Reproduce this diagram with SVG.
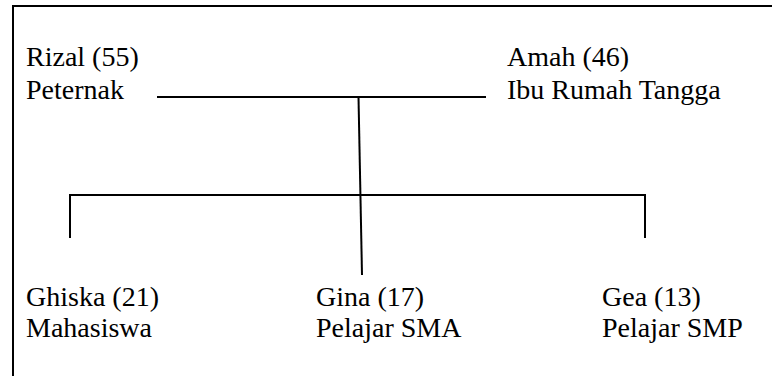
<svg xmlns="http://www.w3.org/2000/svg" width="772" height="376" viewBox="0 0 772 376">
<style>
.t { font-family: 'Liberation Serif', 'Times New Roman', serif; font-size: 28px; fill: #000; }
.ln { stroke: #000; stroke-width: 2; fill: none; }
</style>
<rect x="0" y="0" width="772" height="376" fill="#fff"/>
<path class="ln" d="M13 400 V6 H800" stroke-width="3"/>
<g id="rizal" class="t"><text x="26" y="66">Rizal (55)</text><text x="26" y="99">Peternak</text></g>
<g id="amah" class="t"><text x="507" y="66">Amah (46)</text><text x="507" y="99">Ibu Rumah Tangga</text></g>
<g id="ghiska" class="t"><text x="26" y="306">Ghiska (21)</text><text x="26" y="337">Mahasiswa</text></g>
<g id="gina" class="t"><text x="316" y="306">Gina (17)</text><text x="316" y="337">Pelajar SMA</text></g>
<g id="gea" class="t"><text x="602" y="306">Gea (13)</text><text x="602" y="337">Pelajar SMP</text></g>
<g id="connectors">
<line class="ln" x1="157" y1="97" x2="486" y2="97"/>
<line class="ln" x1="358.5" y1="97" x2="362" y2="275"/>
<path class="ln" d="M70 238 V195 H645 V238"/>
</g>
</svg>
